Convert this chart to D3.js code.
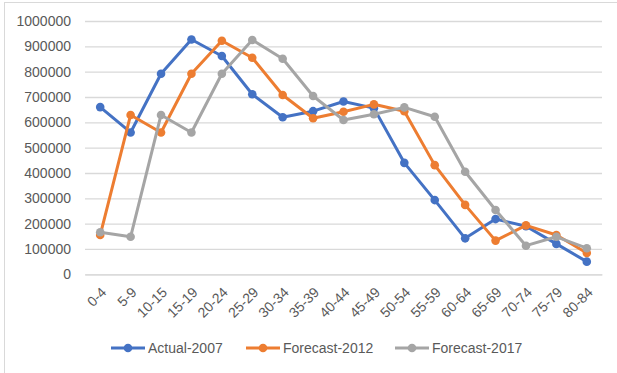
<!DOCTYPE html>
<html><head><meta charset="utf-8">
<script src="https://cdn.jsdelivr.net/npm/d3@7"></script>
<style>body{margin:0;background:#fff}svg{display:block}text{font-family:"Liberation Sans",Arial,sans-serif;fill:#595959}</style>
</head><body><svg id="c" width="617" height="373"></svg>
<script>
const categories = ["0-4","5-9","10-15","15-19","20-24","25-29","30-34","35-39","40-44","45-49","50-54","55-59","60-64","65-69","70-74","75-79","80-84"];
const actual2007 = [660000,560000,792000,927000,862000,711000,620000,644000,682000,656000,440000,293000,142000,218000,190000,120000,50000];
const forecast2012 = [155000,629000,560000,792000,922000,855000,708000,616000,642000,671000,644000,431000,274000,133000,193000,155000,84000];
const forecast2017 = [166000,148000,629000,560000,792000,925000,851000,704000,609000,632000,659000,622000,405000,254000,113000,148000,103000];
const yTicks = [0,100000,200000,300000,400000,500000,600000,700000,800000,900000,1000000];
const seriesNames = ["Actual-2007","Forecast-2012","Forecast-2017"];
const colors = ["#4472C4","#ED7D31","#A5A5A5"];
const series = [actual2007, forecast2012, forecast2017];

const svg = d3.select("#c");
svg.append("rect").attr("x",4.5).attr("y",2.5).attr("width",700).attr("height",500)
  .attr("fill","none").attr("stroke","#D9D9D9");

const x = d3.scaleBand().domain(categories).range([85,602]);
const y = d3.scaleLinear().domain([0,1000000]).range([274.3,21]);

const gy = svg.append("g").attr("transform","translate(85,0)")
  .call(d3.axisLeft(y).tickValues(yTicks).tickSize(-517).tickFormat(d3.format("d")).tickPadding(14));
gy.select(".domain").remove();
gy.selectAll(".tick line").attr("stroke","#D9D9D9").attr("stroke-width",1.3);
gy.selectAll(".tick text").attr("font-size","14px").attr("fill","#595959");

const gx = svg.append("g").attr("transform","translate(0,274.3)")
  .call(d3.axisBottom(x).tickSize(0).tickPadding(0));
gx.select(".domain").attr("stroke","#D9D9D9").attr("stroke-width",1.3);
gx.selectAll(".tick text").attr("font-size","14px").attr("fill","#595959")
  .attr("text-anchor","end").attr("dy",0).attr("y",0)
  .attr("transform","translate(7,19) rotate(-45)");

const line = d3.line().x((d,i)=>x(categories[i])+x.bandwidth()/2).y(d=>y(d));
series.forEach((s,k)=>{
  const g = svg.append("g");
  g.append("path").datum(s).attr("d",line).attr("fill","none")
    .attr("stroke",colors[k]).attr("stroke-width",3).attr("stroke-linejoin","round");
  g.selectAll("circle").data(s).join("circle")
    .attr("cx",(d,i)=>x(categories[i])+x.bandwidth()/2).attr("cy",d=>y(d)).attr("r",4.3)
    .attr("fill",colors[k]);
});

const legX = [111,246,395];
const lg = svg.append("g");
seriesNames.forEach((n,k)=>{
  const g = lg.append("g").attr("transform",`translate(${legX[k]},348)`);
  g.append("line").attr("x1",0).attr("x2",34).attr("stroke",colors[k]).attr("stroke-width",3);
  g.append("circle").attr("cx",17).attr("r",4.3).attr("fill",colors[k]);
  g.append("text").attr("x",37).attr("dy","0.35em").attr("font-size","14px").text(n);
});
</script></body></html>
